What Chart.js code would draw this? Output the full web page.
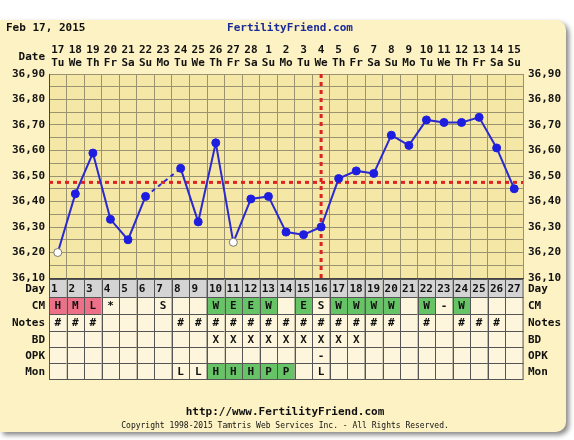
<!DOCTYPE html>
<html><head><meta charset="utf-8">
<script src="https://cdn.jsdelivr.net/npm/chart.js@4.4.1/dist/chart.umd.min.js"></script>
<style>html,body{margin:0;padding:0;background:#fff;}#wrap{position:relative;width:574px;height:440px;}
#panel{position:absolute;left:0;top:20px;width:566px;height:412px;background:#fdf2c4;border-radius:0 10px 10px 0;box-shadow:3px 3px 5px #888;}
canvas{position:absolute;left:0;top:0;}</style></head>
<body><div id="wrap"><div id="panel"></div><canvas id="c" width="574" height="440"></canvas></div>
<script>
const days = ["1","2","3","4","5","6","7","8","9","10","11","12","13","14","15","16","17","18","19","20","21","22","23","24","25","26","27"];
const dates = ["17","18","19","20","21","22","23","24","25","26","27","28","1","2","3","4","5","6","7","8","9","10","11","12","13","14","15"];
const weekdays = ["Tu","We","Th","Fr","Sa","Su","Mo","Tu","We","Th","Fr","Sa","Su","Mo","Tu","We","Th","Fr","Sa","Su","Mo","Tu","We","Th","Fr","Sa","Su"];
const temps = [36.20,36.43,36.59,36.33,36.25,36.42,null,36.53,36.32,36.63,36.24,36.41,36.42,36.28,36.27,36.30,36.49,36.52,36.51,36.66,36.62,36.72,36.71,36.71,36.73,36.61,36.45];
const openPts = [1,0,0,0,0,0,0,0,0,0,1,0,0,0,0,0,0,0,0,0,0,0,0,0,0,0,0];
const coverline = 36.475;
const ovulationDay = "16";
const cm = ["H","M","L","*","","","S","","","W","E","E","W","","E","S","W","W","W","W","","W","-","W","","",""];
const cmColor = ["r","r","r","","","","","","","g","g","g","g","","g","","g","g","g","g","","g","","g","","",""];
const notes = ["#","#","#","","","","","#","#","#","#","#","#","#","#","#","#","#","#","#","","#","","#","#","#",""];
const bd = ["","","","","","","","","","X","X","X","X","X","X","X","X","X","","","","","","","","",""];
const opk = ["","","","","","","","","","","","","","","","-","","","","","","","","","","",""];
const mon = ["","","","","","","","L","L","H","H","H","P","P","","L","","","","","","","","","","",""];
const monColor = ["","","","","","","","","","g","g","g","g","g","","","","","","","","","","","","",""];

const F = 'bold 11px "DejaVu Sans Mono", monospace';
const tablePlugin = {
  id:'tbl',
  beforeDatasetsDraw(ch){
    const {ctx,chartArea:a,scales:{x,y}} = ch;
    ctx.save();
    // coverline
    ctx.strokeStyle='#dd2222';ctx.lineWidth=3;ctx.setLineDash([4,4]);
    const cy=y.getPixelForValue(coverline);
    ctx.beginPath();ctx.moveTo(a.left,cy);ctx.lineTo(a.right,cy);ctx.stroke();
    const ox=x.getPixelForValue(days.indexOf(ovulationDay));
    ctx.beginPath();ctx.moveTo(ox,a.top);ctx.lineTo(ox,a.bottom);ctx.stroke();
    ctx.restore();
  },
  afterDraw(ch){
    const {ctx,chartArea:a,scales:{x,y}} = ch;
    const w=(a.right-a.left)/days.length;
    ctx.save();
    ctx.font=F;ctx.textBaseline='middle';
    // title
    ctx.fillStyle='#111';ctx.textAlign='left';ctx.fillText('Feb 17, 2015',6,28);
    ctx.fillStyle='#1a2a9a';ctx.textAlign='center';ctx.fillText('FertilityFriend.com',290,28);
    ctx.fillStyle='#111';
    ctx.textAlign='right';ctx.fillText('Date',45,57);
    ctx.textAlign='center';
    for(let i=0;i<days.length;i++){const cx=x.getPixelForValue(i);ctx.fillText(dates[i],cx,50);ctx.fillText(weekdays[i],cx,63);}
    // y labels
    for(let v=36.1;v<=36.901;v+=0.1){const py=y.getPixelForValue(v);const t=v.toFixed(2).replace('.',',');
      ctx.textAlign='right';ctx.fillText(t,45,py);ctx.textAlign='left';ctx.fillText(t,a.right+5,py);}
    // table
    const rows=[['Day',279,297],['CM',297,314],['Notes',314,331],['BD',331,347],['OPK',347,363],['Mon',363,379]];
    const data=[days,cm,notes,bd,opk,mon];
    const cols=[null,cmColor,null,null,null,monColor];
    rows.forEach((r,ri)=>{
      const [lab,t,b]=r;
      for(let i=0;i<days.length;i++){
        const l=a.left+i*w;
        let bg = ri===0?'#d4d4d4':'#fdf6dc';
        const c=cols[ri]&&cols[ri][i];
        if(c==='r')bg='#ee7088';if(c==='g')bg='#66c466';
        ctx.fillStyle=bg;ctx.fillRect(l,t,w,b-t);
        ctx.strokeStyle='#555';ctx.lineWidth=1;ctx.strokeRect(Math.round(l)+0.5,t+0.5,w,b-t);
        ctx.fillStyle='#111';ctx.textAlign=ri===0?'left':'center';
        ctx.fillText(data[ri][i],ri===0?l+2:l+w/2,(t+b)/2+1);
      }
      ctx.fillStyle='#111';ctx.textAlign='right';ctx.fillText(lab,a.left-4,(t+b)/2+1);
      ctx.textAlign='left';ctx.fillText(lab,a.right+5,(t+b)/2+1);
    });
    ctx.textAlign='center';ctx.fillText('http://www.FertilityFriend.com',285,412);
    ctx.font='8px "DejaVu Sans Mono", monospace';
    ctx.fillText('Copyright 1998-2015 Tamtris Web Services Inc. - All Rights Reserved.',285,426);
    ctx.restore();
  }
};
const bgPlugin={id:'bg',beforeDraw(ch){const {ctx,chartArea:a}=ch;ctx.save();ctx.fillStyle='#f5e7a6';ctx.fillRect(a.left,a.top,a.right-a.left,a.bottom-a.top);ctx.restore();}};

new Chart(document.getElementById('c'),{
  type:'line',
  data:{labels:days,datasets:[{data:temps,borderColor:'#2a2ad0',borderWidth:2,spanGaps:true,
    segment:{borderDash:c=>c.p0.skip||c.p1.skip?[4,4]:undefined},
    pointRadius:4,pointBackgroundColor:temps.map((t,i)=>openPts[i]?'#ffffff':'#1e1ee0'),
    pointBorderColor:temps.map((t,i)=>openPts[i]?'#777':'#1e1ee0'),pointBorderWidth:1,tension:0}]},
  options:{responsive:false,animation:false,
    layout:{padding:{left:49,right:51,top:74,bottom:162}},
    plugins:{legend:{display:false},tooltip:{enabled:false}},
    scales:{
      x:{offset:true,grid:{offset:true,color:'#9a9270',drawTicks:false},ticks:{display:false},border:{color:'#444'}},
      y:{min:36.1,max:36.9,grid:{color:'#9a9270',drawTicks:false},ticks:{display:false,stepSize:0.05},border:{color:'#444'}}
    }},
  plugins:[bgPlugin,tablePlugin]
});
</script></body></html>
